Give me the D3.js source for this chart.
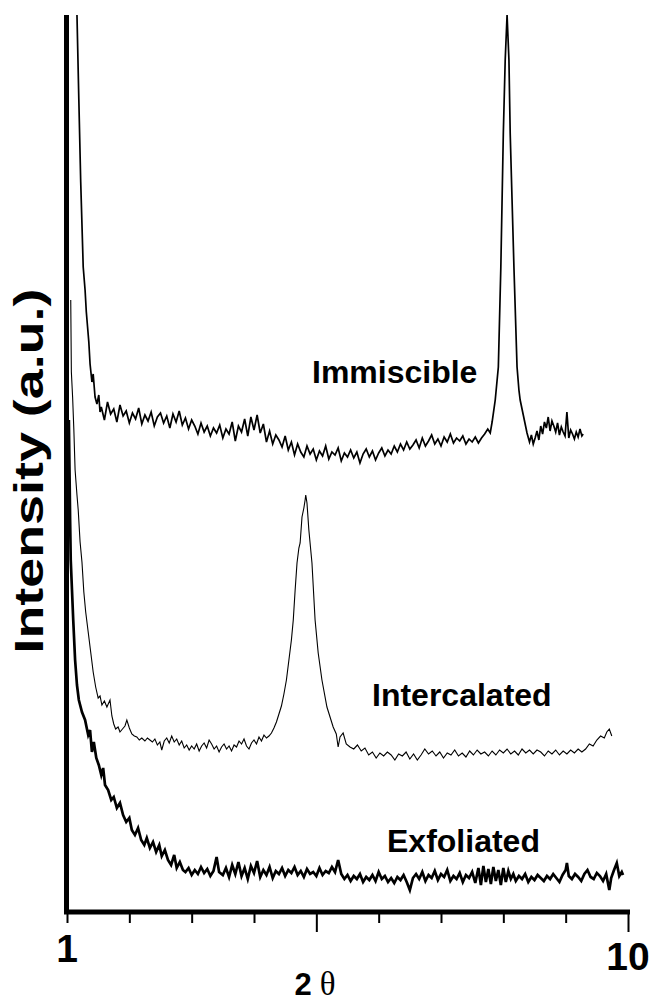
<!DOCTYPE html>
<html>
<head>
<meta charset="utf-8">
<script src="https://cdn.jsdelivr.net/npm/d3@7"></script>
<style>
  html, body { margin: 0; padding: 0; background: #fff; }
  svg { display: block; }
</style>
</head>
<body>
<div id="chart"></div>
<script>
// ---------- DATA (2θ, intensity a.u.) ----------
const xTicks = [1, 2, 3, 4, 5, 6, 7, 8, 9, 10];
const xMajorTicks = [5, 10];
const xTickLabels = [{ v: 1, t: "1" }, { v: 10, t: "10" }];
const seriesNames = ["Immiscible", "Intercalated", "Exfoliated"];

const immiscible = [
  [1.16,897],[1.19,812],[1.22,730],[1.26,645],[1.29,622],[1.31,600],[1.33,585],[1.35,570],[1.37,548],[1.40,530],
  [1.42,538],[1.45,515],[1.48,508],[1.51,517],[1.53,500],
  [1.55,505],[1.60,492],[1.65,510],[1.70,498],[1.75,503],[1.80,490],[1.85,507],[1.90,496],[1.95,501],[2.00,489],
  [2.05,499],[2.10,493],[2.15,504],[2.20,488],[2.25,497],[2.30,491],[2.35,500],[2.40,486],[2.45,495],[2.50,499],
  [2.55,489],[2.60,496],[2.65,484],[2.70,498],[2.75,490],[2.80,501],[2.85,487],[2.90,494],[2.95,483],[3.00,492],
  [3.05,486],[3.10,478],[3.15,489],[3.20,480],[3.25,486],[3.30,476],[3.35,484],[3.40,479],[3.45,487],[3.50,474],
  [3.55,483],[3.60,478],[3.65,490],[3.70,471],[3.75,486],[3.80,480],[3.85,493],[3.90,476],[3.95,495],[4.00,482],
  [4.05,497],[4.10,479],[4.15,488],[4.20,470],[4.25,481],[4.30,468],[4.35,477],[4.40,472],[4.45,465],[4.50,476],
  [4.55,462],[4.60,470],[4.65,457],[4.70,468],[4.75,460],[4.80,455],[4.85,466],[4.90,458],[4.95,463],[5.00,452],
  [5.05,461],[5.10,456],[5.15,466],[5.20,453],[5.25,460],[5.30,457],[5.35,464],[5.40,451],[5.45,459],[5.50,455],
  [5.55,462],[5.60,454],[5.65,460],[5.70,449],[5.75,458],[5.80,463],[5.85,455],[5.90,461],[5.95,452],[6.00,459],
  [6.05,464],[6.10,456],[6.15,462],[6.20,458],[6.25,466],[6.30,460],[6.35,468],[6.40,462],[6.45,470],[6.50,463],
  [6.55,467],[6.60,472],[6.65,464],[6.70,474],[6.75,466],[6.80,471],[6.85,477],[6.90,468],[6.95,473],[7.00,466],
  [7.05,475],[7.10,470],[7.15,478],[7.20,469],[7.25,474],[7.30,471],[7.35,476],[7.40,468],[7.45,473],[7.50,470],
  [7.55,475],[7.60,469],[7.65,474],[7.70,478],[7.75,483],
  [7.79,479],[7.82,490],[7.87,512],[7.92,545],[7.96,645],[8.00,779],[8.03,852],[8.06,897],[8.09,852],[8.11,779],
  [8.14,712],[8.17,645],[8.22,545],[8.25,522],[8.27,512],[8.32,497],[8.38,479],
  [8.42,470],[8.45,477],[8.48,468],[8.51,474],[8.54,481],[8.57,472],[8.60,486],[8.63,478],[8.66,490],[8.69,484],
  [8.72,495],[8.75,481],[8.78,491],[8.81,486],[8.84,480],[8.87,489],[8.90,477],[8.93,485],[8.96,480],[8.99,476],
  [9.02,500],[9.05,474],[9.08,482],[9.11,478],[9.14,473],[9.17,480],[9.20,475],[9.23,483],[9.26,476],[9.28,478]
];

const intercalated = [
  [1.06,612],[1.07,540],[1.09,515],[1.11,482],[1.13,442],[1.16,417],[1.18,402],[1.21,370],[1.24,350],[1.27,320],
  [1.30,300],[1.34,280],[1.38,260],[1.42,240],[1.46,225],[1.50,214],[1.53,216],[1.56,207],[1.60,211],[1.64,205],
  [1.69,212],[1.72,196],[1.75,188],[1.78,183],[1.82,185],[1.85,180],[1.89,183],[1.93,186],[1.96,192],[2.00,184],
  [2.04,178],[2.08,176],[2.12,175],[2.16,172],[2.20,174],[2.25,171],[2.29,174],[2.33,172],[2.37,170],[2.41,173],
  [2.45,167],[2.49,170],[2.52,162],[2.56,171],[2.60,174],[2.64,169],[2.68,176],[2.72,170],[2.76,173],[2.80,167],
  [2.84,171],[2.88,164],[2.92,167],[2.96,162],[3.00,166],[3.04,163],[3.08,168],[3.12,161],[3.16,166],[3.20,169],
  [3.24,164],[3.28,172],[3.32,168],[3.36,163],[3.40,166],[3.44,160],[3.48,165],[3.52,168],[3.56,163],[3.60,166],
  [3.64,161],[3.68,167],[3.72,165],[3.76,171],[3.80,168],[3.84,173],[3.88,166],[3.92,163],[3.96,169],[4.00,172],
  [4.04,168],[4.08,175],[4.12,171],[4.16,177],[4.20,174],[4.24,176],[4.28,179],[4.32,184],[4.36,190],[4.40,198],
  [4.44,206],[4.48,218],[4.52,232],[4.56,252],[4.60,272],[4.63,292],[4.66,322],[4.69,349],[4.72,364],[4.74,369],
  [4.77,395],[4.80,404],[4.82,412],[4.83,417],[4.85,409],[4.88,382],[4.93,349],[4.98,292],[5.03,259],[5.09,232],
  [5.17,205],[5.27,185],[5.32,178],[5.35,165],[5.38,175],[5.43,179],[5.48,168],[5.54,165],[5.60,163],[5.66,167],
  [5.72,161],[5.78,164],[5.84,157],[5.90,160],[5.96,154],[6.02,159],[6.08,156],[6.14,160],[6.20,157],[6.26,152],
  [6.32,158],[6.38,156],[6.44,160],[6.50,153],[6.56,158],[6.62,152],[6.68,157],[6.74,163],[6.80,158],[6.86,161],
  [6.92,156],[6.98,160],[7.04,154],[7.10,159],[7.16,157],[7.22,162],[7.28,156],[7.34,159],[7.40,155],[7.46,161],
  [7.52,157],[7.58,162],[7.64,158],[7.70,160],[7.76,156],[7.82,161],[7.88,157],[7.94,162],[8.00,159],[8.06,163],
  [8.12,158],[8.18,161],[8.24,157],[8.30,163],[8.36,159],[8.42,162],[8.48,158],[8.54,162],[8.60,160],[8.66,156],
  [8.72,161],[8.78,158],[8.84,162],[8.90,157],[8.96,161],[9.02,158],[9.08,162],[9.14,159],[9.20,163],[9.26,160],
  [9.32,163],[9.38,168],[9.44,166],[9.50,172],[9.56,176],[9.62,174],[9.66,180],[9.70,183],[9.74,176]
];

const exfoliated = [
  [1.03,492],[1.04,442],[1.05,392],[1.06,352],[1.08,322],[1.10,292],[1.13,252],[1.16,227],[1.19,212],[1.24,200],
  [1.29,192],[1.34,177],[1.37,182],[1.40,160],[1.43,170],[1.47,154],[1.51,147],[1.55,137],[1.58,144],[1.61,127],
  [1.66,122],[1.71,112],[1.75,115],[1.80,104],[1.85,109],[1.90,97],[1.95,90],[2.00,94],[2.04,82],[2.09,77],
  [2.14,84],[2.19,72],[2.24,67],[2.28,74],[2.33,64],[2.38,70],[2.43,60],[2.48,67],[2.52,56],[2.57,62],
  [2.62,52],[2.67,47],[2.72,57],[2.76,44],[2.81,50],[2.86,42],
  [2.90,40],[2.95,44],[3.00,37],[3.05,42],[3.10,38],[3.15,45],[3.20,39],[3.25,43],[3.30,36],[3.35,41],
  [3.40,55],[3.44,40],[3.50,37],[3.55,44],[3.60,35],[3.65,47],[3.70,38],[3.75,50],[3.80,36],[3.85,44],
  [3.90,33],[3.95,46],[4.00,39],[4.05,51],[4.10,35],[4.15,42],[4.20,37],[4.25,45],[4.30,34],[4.35,41],
  [4.40,38],[4.45,44],[4.50,36],[4.55,42],[4.60,39],[4.65,45],[4.70,37],[4.75,41],[4.80,35],[4.85,43],
  [4.90,38],[4.95,40],[5.00,36],[5.05,44],[5.10,37],[5.15,41],[5.20,39],[5.25,45],[5.30,40],[5.35,52],
  [5.40,38],[5.45,33],[5.50,37],[5.55,31],[5.60,36],[5.65,33],[5.70,38],[5.75,30],[5.80,35],[5.85,32],
  [5.90,37],[5.95,31],[6.00,40],[6.05,33],[6.10,36],[6.15,30],[6.20,34],[6.25,29],[6.30,35],[6.35,32],
  [6.40,37],[6.45,30],[6.50,22],[6.55,34],[6.60,38],[6.65,33],[6.70,40],[6.75,31],[6.80,37],[6.85,34],
  [6.90,41],[6.95,32],[7.00,38],[7.05,35],[7.10,42],[7.15,31],[7.20,36],[7.25,33],[7.30,39],[7.35,30],
  [7.40,37],[7.45,34],[7.50,40],[7.55,29],[7.60,44],[7.64,27],[7.68,46],[7.72,30],[7.76,43],[7.80,28],
  [7.84,45],[7.88,31],[7.92,42],[7.96,27],[8.00,44],[8.04,30],[8.08,41],[8.12,33],[8.16,38],[8.20,31],
  [8.25,36],[8.30,33],[8.35,38],[8.40,30],[8.45,35],[8.50,32],[8.55,37],[8.60,34],[8.65,31],[8.70,36],
  [8.75,33],[8.80,38],[8.85,34],[8.90,30],[8.95,37],[9.00,42],[9.02,49],[9.05,36],[9.10,33],[9.15,38],
  [9.20,35],[9.25,31],[9.30,38],[9.35,42],[9.40,35],[9.45,33],[9.50,39],[9.55,36],[9.60,31],[9.65,38],
  [9.70,22],[9.73,34],[9.77,41],[9.82,49],[9.86,36],[9.90,40],[9.92,37]
];

// ---------- CHART ----------
const W = 652, H = 1006;
const svg = d3.select("#chart").append("svg").attr("width", W).attr("height", H);
svg.append("rect").attr("width", W).attr("height", H).attr("fill", "#fff");

const x = d3.scaleLinear().domain([1, 10]).range([67, 628]);
const y = d3.scaleLinear().domain([0, 897]).range([912, 15]);

svg.append("defs").append("clipPath").attr("id", "plotclip")
  .append("rect").attr("x", 66).attr("y", 15).attr("width", 580).attr("height", 897);

const line = d3.line().x(d => x(d[0])).y(d => y(d[1]));
const plot = svg.append("g").attr("clip-path", "url(#plotclip)");

const styles = [
  { data: immiscible, w: 1.7 },
  { data: intercalated, w: 1.1 },
  { data: exfoliated, w: 2.7 }
];
styles.forEach(s => {
  plot.append("path").datum(s.data)
    .attr("fill", "none").attr("stroke", "#000")
    .attr("stroke-width", s.w).attr("stroke-linejoin", "miter")
    .attr("d", line);
});

// Axes
const axisG = svg.append("g").attr("transform", `translate(0,${y(0)})`)
  .call(d3.axisBottom(x).tickValues(xTicks).tickFormat("").tickSizeOuter(0).tickSize(10));
axisG.select(".domain").attr("stroke", "#000").attr("stroke-width", 5)
  .attr("d", `M${x(1) - 3},0H${x(10) + 2}`);
axisG.selectAll(".tick line").attr("stroke", "#000").attr("stroke-width", 2)
  .attr("y2", d => xMajorTicks.includes(d) ? 20 : 11);

// Y axis line
const yAxisG = svg.append("g").attr("transform", `translate(${x(1) - 0.5},0)`)
  .call(d3.axisLeft(y).tickValues([]).tickSizeOuter(0));
yAxisG.select(".domain").attr("stroke", "#000").attr("stroke-width", 5)
  .attr("d", `M0,${y(897)}V${y(0) + 2}`);

// tick labels
svg.selectAll(".xlab").data(xTickLabels).enter().append("text")
  .attr("x", d => x(d.v)).attr("y", d => d.v === 1 ? 962 : 970)
  .attr("text-anchor", "middle")
  .attr("font-family", "Liberation Sans, Arial, sans-serif")
  .attr("font-weight", "bold").attr("font-size", 39)
  .text(d => d.t);

// x axis title: 2 θ
const xt = svg.append("text").attr("x", 315).attr("y", 995)
  .attr("text-anchor", "middle");
xt.append("tspan").attr("font-family", "Liberation Sans, Arial, sans-serif")
  .attr("font-weight", "bold").attr("font-size", 31).text("2");
xt.append("tspan").attr("dx", 8).attr("font-family", "Liberation Serif, Times New Roman, serif")
  .attr("font-size", 33).text("θ");

// y axis title
svg.append("text")
  .attr("transform", "translate(43,471) rotate(-90)")
  .attr("text-anchor", "middle")
  .attr("font-family", "Liberation Sans, Arial, sans-serif")
  .attr("font-weight", "bold").attr("font-size", 40)
  .attr("textLength", 365).attr("lengthAdjust", "spacingAndGlyphs")
  .text("Intensity (a.u.)");

// series labels
const labelPos = [
  { t: seriesNames[0], x: 312, y: 383 },
  { t: seriesNames[1], x: 372, y: 706 },
  { t: seriesNames[2], x: 387, y: 852 }
];
svg.selectAll(".slab").data(labelPos).enter().append("text")
  .attr("x", d => d.x).attr("y", d => d.y)
  .attr("font-family", "Liberation Sans, Arial, sans-serif")
  .attr("font-weight", "bold").attr("font-size", 32)
  .text(d => d.t);
</script>
</body>
</html>
